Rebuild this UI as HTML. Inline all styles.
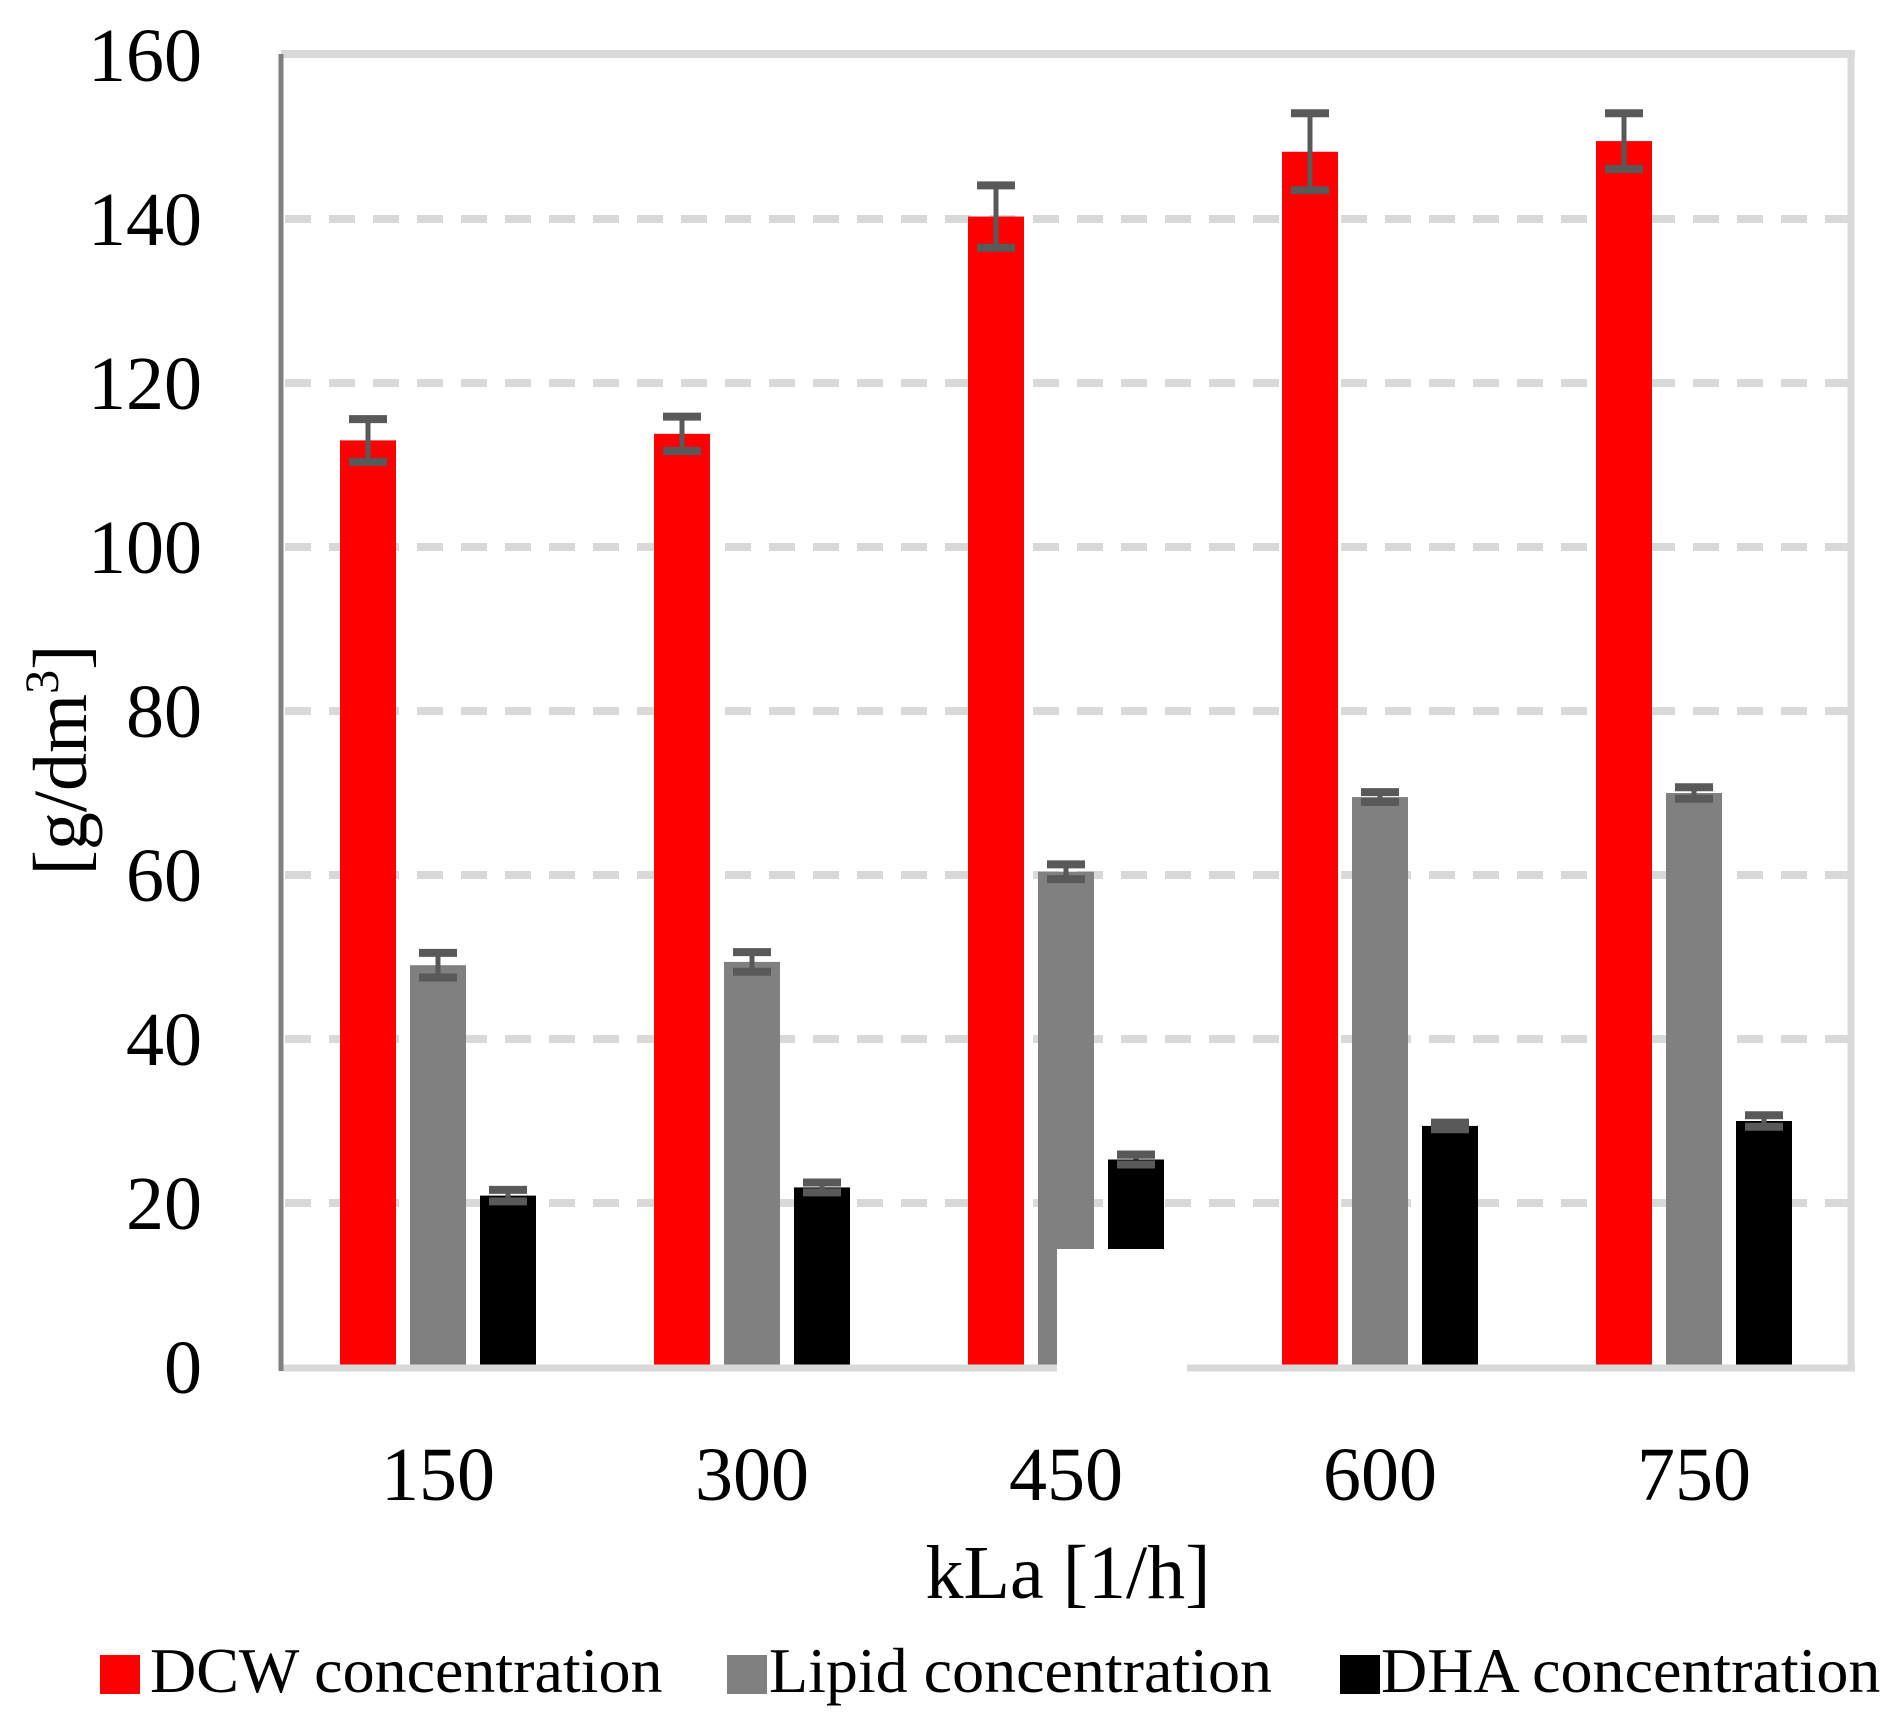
<!DOCTYPE html>
<html><head><meta charset="utf-8"><style>
body{margin:0;background:#fff}
svg text{font-family:"Liberation Serif",serif;fill:#000}
</style></head><body>
<svg id="chart" width="1897" height="1726" viewBox="0 0 1897 1726" xmlns="http://www.w3.org/2000/svg">
<g id="grid"></g>
<g id="bars"></g>
<g id="axes"></g>
<g id="labels"></g>
<text x="0" y="0" font-size="76" text-anchor="middle" transform="translate(86,760) rotate(-90)">[g/dm<tspan font-size="48" dy="-28">3</tspan><tspan dy="28">]</tspan></text>
<text x="1068" y="1598" font-size="76" text-anchor="middle">kLa [1/h]</text>
<g>
<rect x="100" y="1655" width="40" height="39" fill="#ff0000"/>
<text x="150" y="1692" font-size="64">DCW concentration</text>
<rect x="727" y="1655" width="40" height="39" fill="#808080"/>
<text x="769" y="1692" font-size="64">Lipid concentration</text>
<rect x="1340" y="1655" width="40" height="39" fill="#000"/>
<text x="1381" y="1692" font-size="64">DHA concentration</text>
</g>
</svg>
<script>
const categories = ["150","300","450","600","750"];
const dcw = [113, 113.8, 140.3, 148.2, 149.5];
const dcwErr = [2.6, 2.1, 3.8, 4.7, 3.4];
const lipid = [49, 49.4, 60.4, 69.5, 70];
const lipidErr = [1.5, 1.2, 0.9, 0.6, 0.7];
const dha = [20.9, 21.9, 25.3, 29.4, 30];
const dhaErr = [0.7, 0.6, 0.6, 0.4, 0.7];
const yTicks = [0,20,40,60,80,100,120,140,160];

const NS="http://www.w3.org/2000/svg";
const X0=281, X1=1851, Y0=1367, PX=8.2;
const y = v => Y0 - v*PX;
const band = (X1-X0)/categories.length;
const xc = i => X0 + band*(i+0.5);
function mk(tag, attrs, parent){const e=document.createElementNS(NS,tag);for(const k in attrs)e.setAttribute(k,attrs[k]);parent.appendChild(e);return e;}
const grid=document.getElementById('grid'), bars=document.getElementById('bars'), axes=document.getElementById('axes'), labels=document.getElementById('labels');

yTicks.forEach(t=>{
  if(t>0 && t<160){
    const l=mk('line',{x1:X0+4,x2:X1,y1:y(t),y2:y(t),stroke:'#d9d9d9','stroke-width':8,'stroke-dasharray':'26 18'},grid);
    
    
  }
  const tx=mk('text',{x:202,y:y(t)+26,'font-size':76,'text-anchor':'end'},labels);
  tx.textContent=t;
  
  
});

const series=[[dcw,dcwErr,'#ff0000','dcw'],[lipid,lipidErr,'#808080','lipid'],[dha,dhaErr,'#000000','dha']];
const BW=56, STEP=70;
categories.forEach((c,i)=>{
  series.forEach((s,j)=>{
    const cx=xc(i)+(j-1)*STEP;
    const v=s[0][i], e=s[1][i];
    const r=mk('rect',{x:cx-BW/2,y:y(v),width:BW,height:Y0-y(v),fill:s[2]},bars);
    
    
    const g=mk('g',{stroke:'#595959'},bars);
    
    
    mk('line',{x1:cx,x2:cx,y1:y(v+e),y2:y(v-e),'stroke-width':5},g);
    mk('line',{x1:cx-19,x2:cx+19,y1:y(v+e),y2:y(v+e),'stroke-width':8},g);
    mk('line',{x1:cx-19,x2:cx+19,y1:y(v-e),y2:y(v-e),'stroke-width':8},g);
  });
  const tx=mk('text',{x:xc(i),y:1500,'font-size':76,'text-anchor':'middle'},labels);
  tx.textContent=c;
  
  
});

let a;
a=mk('line',{x1:X0,x2:X1+4,y1:54,y2:54,stroke:'#d9d9d9','stroke-width':8},axes);

a=mk('line',{x1:X1,x2:X1,y1:50,y2:Y0+4,stroke:'#d9d9d9','stroke-width':7},axes);

a=mk('line',{x1:X0,x2:X1+4,y1:Y0+1,y2:Y0+1,stroke:'#d9d9d9','stroke-width':7},axes);

a=mk('line',{x1:X0,x2:X0,y1:54,y2:Y0+4,stroke:'#808080','stroke-width':5},axes);

a=mk('rect',{x:1057,y:1249,width:130,height:130,fill:'#fff'},axes);

const i4=2, cxd=xc(i4)+STEP;
a=mk('rect',{x:cxd-BW/2,y:y(dha[i4]),width:BW,height:1249-y(dha[i4]),fill:'#000'},axes);

const ge=mk('g',{stroke:'#595959'},axes);

mk('line',{x1:cxd-19,x2:cxd+19,y1:y(dha[i4]+dhaErr[i4]),y2:y(dha[i4]+dhaErr[i4]),'stroke-width':8},ge);
mk('line',{x1:cxd-19,x2:cxd+19,y1:y(dha[i4]-dhaErr[i4]),y2:y(dha[i4]-dhaErr[i4]),'stroke-width':8},ge);
</script>
</body></html>
